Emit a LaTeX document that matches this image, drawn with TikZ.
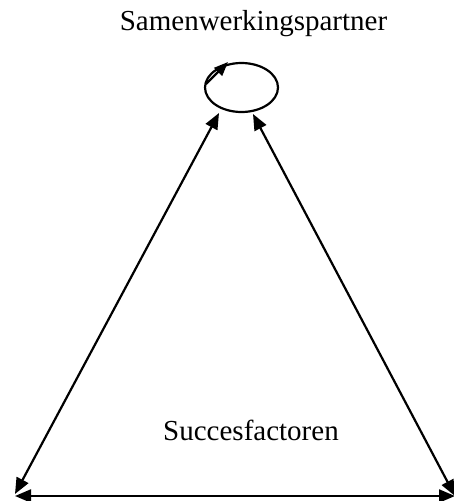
\documentclass[tikz,border=0pt]{standalone}
\usepackage{fontspec}
\setmainfont{Liberation Serif}
\usetikzlibrary{arrows.meta,shapes.geometric}
\begin{document}
\begin{tikzpicture}[x=1pt,y=-1pt,
  lbl/.style={font=\fontsize{29}{32}\selectfont, inner sep=0pt, anchor=base},
  conn/.style={line width=2.2pt, {Triangle[length=16pt,width=13pt]}-{Triangle[length=16pt,width=13pt]}},
  loopbox/.style={draw, line width=2.2pt, ellipse, minimum width=73pt, minimum height=49pt, inner sep=0pt}]
\useasboundingbox (0,0) rectangle (453,501);
\node[lbl] (title) at (253.5,30) {Samenwerkingspartner};
\node[lbl] (succ) at (251,440) {Succesfactoren};
\node[loopbox] (loop) at (241.5,87.5) {};
\coordinate (la) at (206,84);
\coordinate (lb) at (228,62);
\draw[line width=2.2pt, -{Triangle[length=14pt,width=11pt]}] (la) -- (lb);
\coordinate (top1) at (219,113);
\coordinate (top2) at (253,114);
\coordinate (bl) at (15,494);
\coordinate (br) at (455,496);
\coordinate (bl2) at (15,496);
\draw[conn] (top1) -- (bl);
\draw[conn] (top2) -- (br);
\draw[conn] (bl2) -- (br);
\end{tikzpicture}
\end{document}
